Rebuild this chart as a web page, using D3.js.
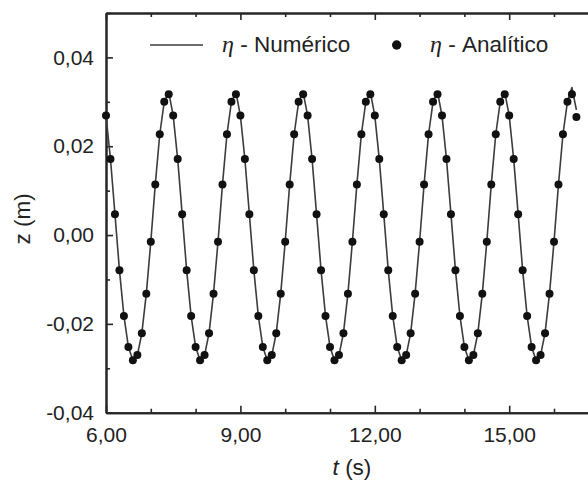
<!DOCTYPE html>
<html>
<head>
<meta charset="utf-8">
<script src="https://cdn.jsdelivr.net/npm/d3@7"></script>
<style>
  html, body { margin: 0; padding: 0; background: #fff; }
  svg { display: block; }
  text { font-family: Arial, "Liberation Sans", sans-serif; fill: #222; }
</style>
</head>
<body>
<svg id="chart" width="588" height="482"></svg>
<script>
// Sampling instants (s)
const times = [
  6.0, 6.1, 6.2, 6.3, 6.4, 6.5, 6.6, 6.7, 6.8, 6.9, 7.0, 7.1, 7.2, 7.3, 7.4,
  7.5, 7.6, 7.7, 7.8, 7.9, 8.0, 8.1, 8.2, 8.3, 8.4, 8.5, 8.6, 8.7, 8.8, 8.9,
  9.0, 9.1, 9.2, 9.3, 9.4, 9.5, 9.6, 9.7, 9.8, 9.9, 10.0, 10.1, 10.2, 10.3, 10.4,
  10.5, 10.6, 10.7, 10.8, 10.9, 11.0, 11.1, 11.2, 11.3, 11.4, 11.5, 11.6, 11.7, 11.8, 11.9,
  12.0, 12.1, 12.2, 12.3, 12.4, 12.5, 12.6, 12.7, 12.8, 12.9, 13.0, 13.1, 13.2, 13.3, 13.4,
  13.5, 13.6, 13.7, 13.8, 13.9, 14.0, 14.1, 14.2, 14.3, 14.4, 14.5, 14.6, 14.7, 14.8, 14.9,
  15.0, 15.1, 15.2, 15.3, 15.4, 15.5, 15.6, 15.7, 15.8, 15.9, 16.0, 16.1, 16.2, 16.3, 16.4,
  16.5
];

// Free-surface elevation, analytical solution (m)
const etaAnalitico = [
  0.0269, 0.0171, 0.0047, -0.0079, -0.0182, -0.0252, -0.0282, -0.0270, -0.0221, -0.0132, -0.0015, 0.0114, 0.0227, 0.0300, 0.0317,
  0.0269, 0.0171, 0.0047, -0.0079, -0.0182, -0.0252, -0.0282, -0.0270, -0.0221, -0.0132, -0.0015, 0.0114, 0.0227, 0.0300, 0.0317,
  0.0269, 0.0171, 0.0047, -0.0079, -0.0182, -0.0252, -0.0282, -0.0270, -0.0221, -0.0132, -0.0015, 0.0114, 0.0227, 0.0300, 0.0317,
  0.0269, 0.0171, 0.0047, -0.0079, -0.0182, -0.0252, -0.0282, -0.0270, -0.0221, -0.0132, -0.0015, 0.0114, 0.0227, 0.0300, 0.0317,
  0.0269, 0.0171, 0.0047, -0.0079, -0.0182, -0.0252, -0.0282, -0.0270, -0.0221, -0.0132, -0.0015, 0.0114, 0.0227, 0.0300, 0.0317,
  0.0269, 0.0171, 0.0047, -0.0079, -0.0182, -0.0252, -0.0282, -0.0270, -0.0221, -0.0132, -0.0015, 0.0114, 0.0227, 0.0300, 0.0317,
  0.0269, 0.0171, 0.0047, -0.0079, -0.0182, -0.0252, -0.0282, -0.0270, -0.0221, -0.0132, -0.0015, 0.0114, 0.0227, 0.0300, 0.0317,
  0.0266
];

// Free-surface elevation, numerical model (m)
const etaNumerico = [
  0.0269, 0.0171, 0.0047, -0.0079, -0.0182, -0.0252, -0.0282, -0.0271, -0.0221, -0.0132, -0.0015, 0.0114, 0.0227, 0.0300, 0.0322,
  0.0269, 0.0171, 0.0047, -0.0079, -0.0182, -0.0252, -0.0282, -0.0271, -0.0221, -0.0132, -0.0015, 0.0114, 0.0227, 0.0300, 0.0322,
  0.0269, 0.0171, 0.0047, -0.0079, -0.0182, -0.0252, -0.0282, -0.0271, -0.0221, -0.0132, -0.0015, 0.0114, 0.0227, 0.0300, 0.0322,
  0.0269, 0.0171, 0.0047, -0.0079, -0.0182, -0.0252, -0.0282, -0.0271, -0.0221, -0.0132, -0.0015, 0.0114, 0.0227, 0.0300, 0.0322,
  0.0269, 0.0171, 0.0047, -0.0079, -0.0182, -0.0252, -0.0282, -0.0271, -0.0221, -0.0132, -0.0015, 0.0114, 0.0227, 0.0300, 0.0322,
  0.0269, 0.0171, 0.0047, -0.0079, -0.0182, -0.0252, -0.0282, -0.0271, -0.0221, -0.0132, -0.0015, 0.0114, 0.0227, 0.0300, 0.0322,
  0.0269, 0.0171, 0.0047, -0.0079, -0.0182, -0.0252, -0.0282, -0.0271, -0.0221, -0.0132, -0.0015, 0.0114, 0.0227, 0.0300, 0.0332,
  0.0282
];

// Axis ticks and labels
const xTickValues = [6, 9, 12, 15];
const xTickLabels = ["6,00", "9,00", "12,00", "15,00"];
const xMinorTicks = [7, 8, 10, 11, 13, 14, 16, 17];
const yTickValues = [-0.04, -0.02, 0.00, 0.02, 0.04];
const yTickLabels = ["-0,04", "-0,02", "0,00", "0,02", "0,04"];
const yMinorTicks = [-0.03, -0.01, 0.01, 0.03, 0.05];

const svg = d3.select("#chart");
const plotLeft = 106, plotTop = 13, plotBottom = 412.7, plotRight = 598.8;

const x = d3.scaleLinear().domain([6, 17]).range([plotLeft, plotRight]);
const y = d3.scaleLinear().domain([-0.04, 0.05]).range([plotBottom, plotTop]);

const axisColor = "#262626";

function styleAxis(g) {
  g.selectAll("path.domain").attr("stroke", axisColor).attr("stroke-width", 2);
  g.selectAll(".tick line").attr("stroke", axisColor).attr("stroke-width", 1.6);
  g.selectAll(".tick text").attr("font-size", 21).attr("fill", "#222")
    .attr("font-family", "Arial, 'Liberation Sans', sans-serif");
}

// Minor ticks (drawn first so the main axes sit on top)
svg.append("g").attr("transform", `translate(0,${plotBottom})`)
  .call(d3.axisBottom(x).tickValues(xMinorTicks).tickSize(-4).tickSizeOuter(0).tickFormat(""))
  .call(styleAxis);
svg.append("g").attr("transform", `translate(0,${plotTop})`)
  .call(d3.axisTop(x).tickValues(xMinorTicks).tickSize(-4).tickSizeOuter(0).tickFormat(""))
  .call(styleAxis);
svg.append("g").attr("transform", `translate(${plotLeft},0)`)
  .call(d3.axisLeft(y).tickValues(yMinorTicks).tickSize(-4).tickSizeOuter(0).tickFormat(""))
  .call(styleAxis);

// Major ticks with labels
svg.append("g").attr("transform", `translate(0,${plotBottom})`)
  .call(d3.axisBottom(x).tickValues(xTickValues).tickSize(-7).tickSizeOuter(0).tickPadding(14)
    .tickFormat((d, i) => xTickLabels[i]))
  .call(styleAxis);
svg.append("g").attr("transform", `translate(0,${plotTop})`)
  .call(d3.axisTop(x).tickValues(xTickValues).tickSize(-7).tickSizeOuter(0).tickFormat(""))
  .call(styleAxis);
svg.append("g").attr("transform", `translate(${plotLeft},0)`)
  .call(d3.axisLeft(y).tickValues(yTickValues).tickSize(-7).tickSizeOuter(0).tickPadding(12)
    .tickFormat((d, i) => yTickLabels[i]))
  .call(styleAxis);

// Numerical solution as a line
const line = d3.line().x((d, i) => x(times[i])).y(d => y(d));
svg.append("path")
  .datum(etaNumerico)
  .attr("d", line)
  .attr("fill", "none")
  .attr("stroke", "#3c3c3c")
  .attr("stroke-width", 1.6)
  .attr("stroke-linejoin", "round");

// Analytical solution as dots
svg.append("g").selectAll("circle")
  .data(etaAnalitico)
  .join("circle")
  .attr("cx", (d, i) => x(times[i]))
  .attr("cy", d => y(d))
  .attr("r", 4)
  .attr("fill", "#111");

// Legend
const legend = svg.append("g");
legend.append("line")
  .attr("x1", 150).attr("x2", 203).attr("y1", 45).attr("y2", 45)
  .attr("stroke", "#3c3c3c").attr("stroke-width", 1.6);
const t1 = legend.append("text").attr("x", 222).attr("y", 52).attr("font-size", 22.5);
t1.append("tspan").attr("font-family", "'Liberation Serif', 'DejaVu Serif', serif")
  .attr("font-style", "italic").attr("font-size", 24).text("η");
t1.append("tspan").text(" - Numérico");

legend.append("circle").attr("cx", 396.7).attr("cy", 45).attr("r", 4.7).attr("fill", "#111");
const t2 = legend.append("text").attr("x", 430).attr("y", 52).attr("font-size", 22.5);
t2.append("tspan").attr("font-family", "'Liberation Serif', 'DejaVu Serif', serif")
  .attr("font-style", "italic").attr("font-size", 24).text("η");
t2.append("tspan").text(" - Analítico");

// Axis titles
const xt = svg.append("text").attr("x", 352).attr("y", 475).attr("text-anchor", "middle").attr("font-size", 22.5);
xt.append("tspan").attr("font-style", "italic").text("t");
xt.append("tspan").text(" (s)");

svg.append("text")
  .attr("transform", "translate(30,219) rotate(-90)")
  .attr("text-anchor", "middle")
  .attr("font-size", 22.5)
  .text("z (m)");
</script>
</body>
</html>
